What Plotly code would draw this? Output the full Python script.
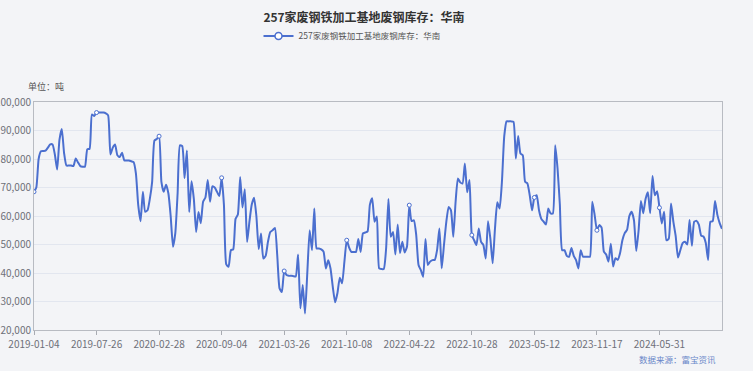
import plotly.graph_objects as go
from datetime import date, timedelta

title_text = "257家废钢铁加工基地废钢库存：华南"
series_name = "257家废钢铁加工基地废钢库存：华南"
unit_text = "单位：吨"
source_text = "数据来源：富宝资讯"

# tick-label dates (category axis, one label every 27 weekly points)
label_dates = ["2019-01-04", "2019-07-26", "2020-02-28", "2020-09-04", "2021-03-26",
               "2021-10-08", "2022-04-22", "2022-10-28", "2023-05-12", "2023-11-17",
               "2024-05-31"]
points_per_label = [27, 27, 27, 27, 27, 27, 27, 27, 27, 27, 28]

# inventory values (tons)
values = [
    68500, 70000, 80000, 82700, 82800, 82900, 84000, 85100, 85100, 81600,
    76300, 86800, 90500, 82000, 77700, 77700, 77700, 77500, 80200, 78800,
    77500, 77300, 77300, 83400, 83600, 95600, 95100, 96300, 96300, 96300,
    96300, 96000, 95300, 81600, 84000, 85100, 81300, 80700, 82200, 79500,
    79500, 79500, 79200, 78900, 74900, 63800, 58200, 68500, 61500, 62000,
    66000, 72000, 86500, 87000, 88000, 72000, 68500, 71000, 68000, 60000,
    49200, 54000, 68000, 84800, 84500, 73300, 83000, 61400, 72200, 66000,
    54400, 61400, 57500, 65000, 66500, 72600, 65000, 70400, 70000, 68500,
    67000, 73400, 63800, 43000, 42200, 48000, 48300, 59000, 60500, 73700,
    63000, 69400, 50900, 58000, 64000, 66400, 60000, 48400, 53900, 45100,
    46000, 51000, 54400, 55000, 55800, 46300, 34600, 33300, 40700, 39300,
    39000, 39000, 38900, 38800, 46500, 27600, 35800, 25800, 40400, 55000,
    48000, 62600, 48600, 48600, 48300, 47500, 41600, 44500, 41600, 35000,
    29700, 33000, 38300, 36400, 44000, 51500, 49000, 47400, 47400, 47400,
    51900, 47400, 53900, 54200, 54600, 64000, 66200, 58000, 59800, 41600,
    41400, 41400, 48600, 66000, 52700, 54400, 46500, 57000, 47000, 51000,
    47200, 49200, 63800, 58200, 58500, 53300, 42800, 41000, 38700, 51900,
    42800, 44000, 44500, 44600, 48000, 55600, 41600, 50000, 58000, 63200,
    62000, 52700, 65000, 73200, 71800, 71400, 78400, 68300, 72600, 53300,
    51500, 49800, 55600, 50900, 49800, 45100, 58200, 52100, 43400, 55600,
    64800, 62600, 72000, 88000, 93200, 93200, 93200, 93000, 80200, 88100,
    81900, 81300, 72000, 71400, 67300, 62000, 66500, 67300, 62000, 59000,
    58000, 57000, 62600, 60900, 60900, 84800, 76700, 64000, 48000, 48000,
    46000, 45700, 48800, 46000, 44500, 41600, 48000, 45700, 45700, 45700,
    45700, 65000, 60500, 55000, 56800, 56000, 47500, 46500, 44000, 50300,
    42300, 45200, 44600, 47000, 51500, 54000, 55100, 60000, 61500, 58500,
    47700, 55000, 65300, 61000, 66000, 68300, 61000, 74000, 67300, 68700,
    62900, 57400, 61500, 51500, 52000, 64400, 58000, 53000, 45400, 48000,
    50500, 51000, 50000, 58600, 49600, 58000, 58300, 57000, 53100, 52800,
    50500, 44600, 58000, 58200, 65300, 60400, 57500, 55500,
]

# weekly category dates, anchored on the labelled dates
categories = []
for d, n in zip(label_dates, points_per_label):
    start = date.fromisoformat(d)
    for k in range(n):
        categories.append((start + timedelta(weeks=k)).isoformat())

LINE = "#4b6fcf"
BG = "#f3f4f7"
FONT = "Noto Sans CJK SC, Liberation Sans, sans-serif"

label_idx = [categories.index(d) for d in label_dates]

fig = go.Figure()
fig.add_trace(go.Scatter(
    x=categories, y=values, mode="lines", name=series_name, showlegend=False,
    line=dict(color=LINE, width=2, shape="spline", smoothing=0.5),
    hoverinfo="x+y",
))
fig.add_trace(go.Scatter(
    x=[categories[i] for i in label_idx], y=[values[i] for i in label_idx],
    mode="markers", showlegend=False, hoverinfo="skip",
    marker=dict(symbol="circle", size=4, color="#ffffff", line=dict(color=LINE, width=1)),
))
fig.add_trace(go.Scatter(
    x=[None], y=[None], mode="lines+markers", name=series_name,
    line=dict(color=LINE, width=2),
    marker=dict(symbol="circle", size=7, color="#ffffff", line=dict(color=LINE, width=1.5)),
))

fig.update_layout(
    width=753, height=371,
    margin=dict(l=34, r=31, t=102, b=41, autoexpand=False),
    paper_bgcolor=BG, plot_bgcolor=BG,
    font=dict(family=FONT, size=10, color="#6e7079"),
    title=dict(text="<b>" + title_text + "</b>", x=364 / 753, xanchor="center",
               xref="container", y=1 - 18 / 371, yanchor="middle", yref="container",
               font=dict(size=12, color="#333333", family=FONT)),
    legend=dict(orientation="h", xref="container", yref="container",
                x=352 / 753, xanchor="center", y=1 - 36 / 371, yanchor="middle",
                font=dict(size=8.5, color="#555555"), bgcolor="rgba(0,0,0,0)",
                itemwidth=30),
    xaxis=dict(type="category", categoryorder="array", categoryarray=categories,
               range=[0, len(categories) - 1], tickmode="array", tickvals=label_dates,
               ticktext=label_dates, ticks="outside", ticklen=4, tickcolor="#a8abb2",
               ticklabelstandoff=1,
               showline=True, linecolor="#b8bbc2", linewidth=1, mirror=True,
               showgrid=False, zeroline=False, automargin=False,
               tickfont=dict(size=10, color="#6e7079")),
    yaxis=dict(range=[20000, 100000], dtick=10000, tickformat=",", showgrid=True,
               gridcolor="#e2e6ef", gridwidth=1, showline=True, linecolor="#b8bbc2",
               linewidth=1, mirror=True, zeroline=False, ticks="", automargin=False,
               tickfont=dict(size=10, color="#6e7079")),
    annotations=[
        dict(text=unit_text, xref="paper", yref="paper", x=(26 - 34) / 688,
             y=(330 - 87) / 228, xanchor="left", yanchor="middle", showarrow=False,
             font=dict(size=9, color="#555555", family=FONT)),
        dict(text=source_text, xref="paper", yref="paper", x=(718 - 34) / 688,
             y=(330 - 359) / 228, xanchor="right", yanchor="middle", showarrow=False,
             font=dict(size=8.5, color="#6a87c9", family=FONT)),
    ],
    showlegend=True,
)

page_js = ("document.body.style.margin='0';"
           "document.body.style.background='" + BG + "';"
           "document.body.style.overflow='hidden';")
fig.write_html("out.html", post_script=page_js, config={"displayModeBar": False})
